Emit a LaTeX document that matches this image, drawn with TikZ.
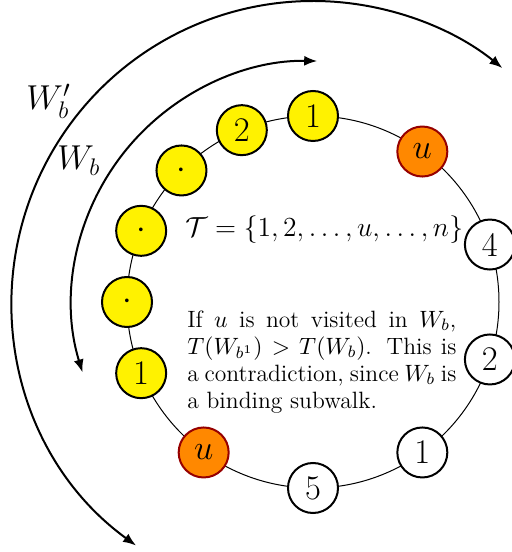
\documentclass[tikz,border=0pt]{standalone}
\usepackage{fix-cm}
\usetikzlibrary{arrows.meta}
\definecolor{orangeN}{RGB}{255,136,0}
\definecolor{borderN}{RGB}{150,0,0}
\begin{document}
\begin{tikzpicture}[x=0.5pt,y=0.5pt,
  vnode/.style={circle, draw, line width=1pt, minimum size=25pt, inner sep=0pt,
    font=\fontsize{17.28}{20}\selectfont},
  yel/.style={vnode, fill=yellow},
  org/.style={vnode, fill=orangeN, draw=borderN},
  wht/.style={vnode, fill=white},
  ring/.style={line width=0.5pt},
  walk/.style={line width=1pt, {Latex[length=6.5pt,width=5pt]}-{Latex[length=6.5pt,width=5pt]}},
  lbl/.style={inner sep=0pt, font=\fontsize{17.28}{20}\selectfont}
  ]
\useasboundingbox (0,0) rectangle (511,552);
\coordinate (c) at (313,250);
\begin{scope}[shift={(c)}]
  \draw[ring] (0,0) circle[radius=93pt];
  \node[yel] (y1) at (90:93pt) {1};
  \node[yel] (y2) at (112.5:93pt) {2};
  \node[yel] (d1) at (135:93pt) {$\cdot$};
  \node[yel] (d2) at (157.5:93pt) {$\cdot$};
  \node[yel] (d3) at (180:93pt) {$\cdot$};
  \node[yel] (y0) at (202.5:93pt) {1};
  \node[org] (ub) at (234:93pt) {$u$};
  \node[wht] (n5) at (270:93pt) {5};
  \node[wht] (n1) at (306:93pt) {1};
  \node[wht] (n2) at (342:93pt) {2};
  \node[wht] (n4) at (18:93pt) {4};
  \node[org] (ut) at (54:93pt) {$u$};
  \draw[walk] (234:150.5pt) arc[start angle=234, end angle=51, radius=150.5pt];
  \draw[walk] (197:120.5pt) arc[start angle=197, end angle=89, radius=120.5pt];
\end{scope}
\node[lbl, anchor=base west] (wbp) at (26,442) {$W_b'$};
\node[lbl, anchor=base west] (wb) at (57,382) {$W_b$};
\node[inner sep=0pt, anchor=base west, font=\fontsize{13.8}{16}\selectfont] (set) at (185,315)
  {$\mathcal{T} = \{1, 2, \ldots, u, \ldots, n\}$};
\node[inner sep=0pt, anchor=north west, text width=134.5pt, align=justify,
  font=\fontsize{11.8}{13.5}\selectfont] (para) at (187,242)
  {\hyphenpenalty=10000 \tolerance=10000
   If $u$ is not visited in $W_b$,\linebreak
   $T(W_{b^1}) > T(W_b)$. This is\linebreak
   a contradiction, since $W_b$ is\linebreak
   a binding subwalk.};
\end{tikzpicture}
\end{document}
